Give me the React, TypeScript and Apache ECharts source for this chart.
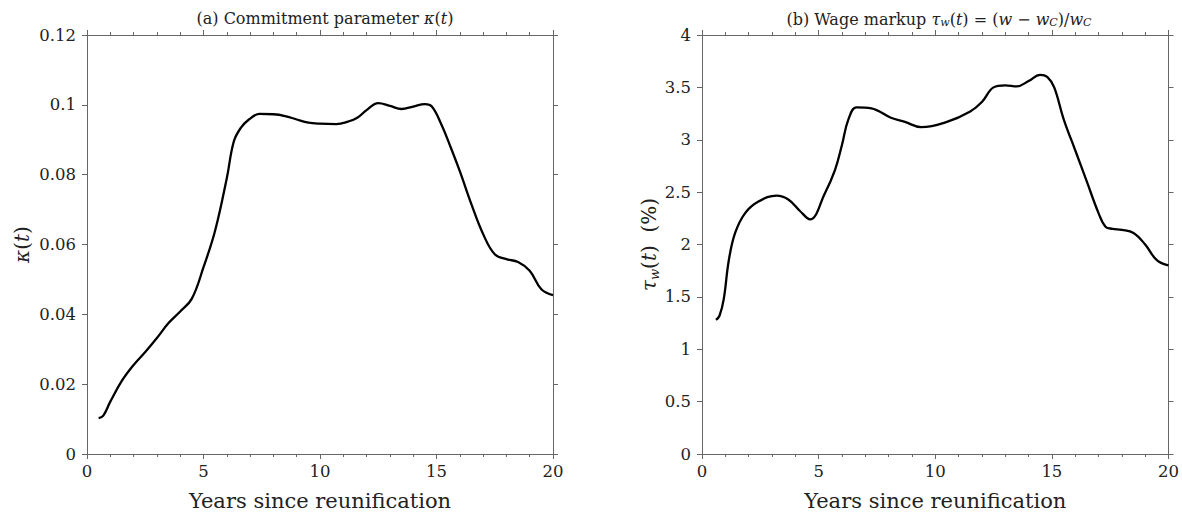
import React, { useEffect, useRef } from "react";
import * as echarts from "echarts";

const kappaT = [0.5, 0.7, 1, 1.5, 2, 2.5, 3, 3.5, 4, 4.5, 5, 5.5, 6, 6.3, 6.6, 6.95, 7.4, 8, 8.5, 9, 9.5, 10, 10.7, 11.2, 11.6, 12, 12.5, 13, 13.5, 14, 14.5, 14.8, 15.2, 15.6, 16, 16.5, 17, 17.5, 18, 18.5, 19, 19.5, 20];
const kappaV = [0.0103, 0.011, 0.015, 0.021, 0.0255, 0.0292, 0.0332, 0.0375, 0.0408, 0.0445, 0.0535, 0.064, 0.079, 0.0895, 0.0934, 0.0958, 0.0974, 0.0973, 0.0968, 0.0958, 0.0949, 0.0946, 0.0945, 0.0952, 0.0963, 0.0985, 0.1005, 0.0997, 0.0988, 0.0995, 0.1002, 0.0995, 0.0945, 0.0880, 0.0810, 0.0715, 0.0630, 0.0572, 0.0558, 0.0550, 0.0525, 0.0472, 0.0455];

const tauT = [0.6, 0.75, 0.93, 1.15, 1.42, 1.85, 2.42, 3.2, 3.7, 4.2, 4.63, 5.27, 5.7, 6.0, 6.27, 6.62, 7.26, 8.1, 8.7, 9.4, 10.5, 11.5, 12.0, 12.5, 13.0, 13.5, 14.0, 14.5, 14.8, 15.1, 15.5, 16.0, 16.5, 17.0, 17.3, 17.6, 18.0, 18.5, 19.0, 19.5, 20];
const tauV = [1.28, 1.32, 1.476, 1.85, 2.11, 2.3, 2.41, 2.467, 2.43, 2.32, 2.24, 2.49, 2.71, 2.95, 3.19, 3.31, 3.30, 3.21, 3.17, 3.12, 3.17, 3.27, 3.36, 3.5, 3.52, 3.51, 3.56, 3.62, 3.6, 3.5, 3.2, 2.9, 2.6, 2.3, 2.17, 2.15, 2.14, 2.11, 2.0, 1.85, 1.8];

const xTicksMax = 20;
const kappaMax = 0.12;
const kappaStep = 0.02;
const tauMax = 4;
const tauStep = 0.5;

const FONT = "DejaVu Serif";
const AXC = "#666";
const TXT = "#222";

function pairs(xs: number[], ys: number[]) {
  return xs.map((x, i) => [x, ys[i]]);
}

function xAxes(gridIndex: number) {
  const base = {
    type: "value",
    gridIndex,
    min: 0,
    max: xTicksMax,
    interval: 5,
    splitLine: { show: false },
    axisLine: { show: true, onZero: false, lineStyle: { color: AXC, width: 1 } },
    axisTick: { show: true, inside: false, length: 5, lineStyle: { color: AXC } },
    minorTick: { show: true, splitNumber: 5, length: 3, lineStyle: { color: AXC } },
  };
  return [
    {
      ...base,
      position: "bottom",
      name: "Years since reunification",
      nameLocation: "middle",
      nameGap: 36,
      nameTextStyle: { fontFamily: FONT, fontSize: 21, color: TXT },
      axisLabel: { fontFamily: FONT, fontSize: 16.5, color: TXT, margin: 9 },
    },
    { ...base, position: "top", axisLabel: { show: false } },
  ];
}

function yAxes(gridIndex: number, max: number, step: number, name: string, rich: any, fmt: (v: number) => string) {
  const base = {
    type: "value",
    gridIndex,
    min: 0,
    max,
    interval: step,
    splitLine: { show: false },
    axisLine: { show: true, onZero: false, lineStyle: { color: AXC, width: 1 } },
    axisTick: { show: true, inside: false, length: 5, lineStyle: { color: AXC } },
  };
  return [
    {
      ...base,
      position: "left",
      name,
      nameLocation: "middle",
      nameRotate: 90,
      nameGap: gridIndex === 0 ? 55 : 38,
      nameTextStyle: { fontFamily: FONT, fontSize: 20, color: TXT, rich },
      axisLabel: { fontFamily: FONT, fontSize: 16.5, color: TXT, margin: 11, formatter: fmt },
    },
    { ...base, position: "right", axisLabel: { show: false } },
  ];
}

export default function App() {
  const ref = useRef<HTMLDivElement>(null);
  useEffect(() => {
    if (!ref.current) return;
    const chart = echarts.init(ref.current, undefined, { renderer: "svg" });
    const richMath = {
      i: { fontFamily: FONT, fontSize: 20, fontStyle: "italic", color: TXT },
      n: { fontFamily: FONT, fontSize: 20, color: TXT },
      s: { fontFamily: FONT, fontSize: 13, fontStyle: "italic", color: TXT, verticalAlign: "bottom", padding: [10, 0, 0, 0] },
    };
    const richTitle = {
      n: { fontFamily: FONT, fontSize: 16, color: TXT, fontWeight: "normal" },
      i: { fontFamily: FONT, fontSize: 16, fontStyle: "italic", color: TXT, fontWeight: "normal" },
      s: { fontFamily: FONT, fontSize: 11, fontStyle: "italic", color: TXT, fontWeight: "normal", verticalAlign: "bottom", padding: [7, 0, 0, 0] },
    };
    const option: any = {
      animation: false,
      title: [
        {
          text: "{n|(a) Commitment parameter }{i|κ}{n|(}{i|t}{n|)}",
          left: 320,
          top: 5,
          textAlign: "center",
          textStyle: { rich: richTitle, fontFamily: FONT, fontSize: 16, fontWeight: "normal" },
        },
        {
          text: "{n|(b) Wage markup }{i|τ}{s|w}{n|(}{i|t}{n|) = (}{i|w}{n| − }{i|w}{s|C}{n|)/}{i|w}{s|C}",
          left: 934,
          top: 5,
          textAlign: "center",
          textStyle: { rich: richTitle, fontFamily: FONT, fontSize: 16, fontWeight: "normal" },
        },
      ],
      grid: [
        { left: 87, right: 1182 - 553, top: 35, bottom: 516 - 455 },
        { left: 702, right: 13, top: 35, bottom: 516 - 455 },
      ],
      xAxis: [...xAxes(0), ...xAxes(1)],
      yAxis: [
        ...yAxes(0, kappaMax, kappaStep, "{i|κ}{n|(}{i|t}{n|)}", richMath, (v: number) => (v === 0 ? "0" : String(+v.toFixed(2)))),
        ...yAxes(1, tauMax, tauStep, "{i|τ}{s|w}{n|(}{i|t}{n|)  (%)}", richMath, (v: number) => String(+v.toFixed(1))),
      ],
      series: [
        {
          type: "line",
          xAxisIndex: 0,
          yAxisIndex: 0,
          data: pairs(kappaT, kappaV),
          smooth: 0.4,
          showSymbol: false,
          lineStyle: { color: "#000", width: 2.3 },
        },
        {
          type: "line",
          xAxisIndex: 2,
          yAxisIndex: 2,
          data: pairs(tauT, tauV),
          smooth: 0.4,
          showSymbol: false,
          lineStyle: { color: "#000", width: 2.3 },
        },
      ],
    };
    chart.setOption(option);
    return () => chart.dispose();
  }, []);
  return <div ref={ref} style={{ position: "absolute", left: 0, top: 0, width: 1182, height: 516 }} />;
}
